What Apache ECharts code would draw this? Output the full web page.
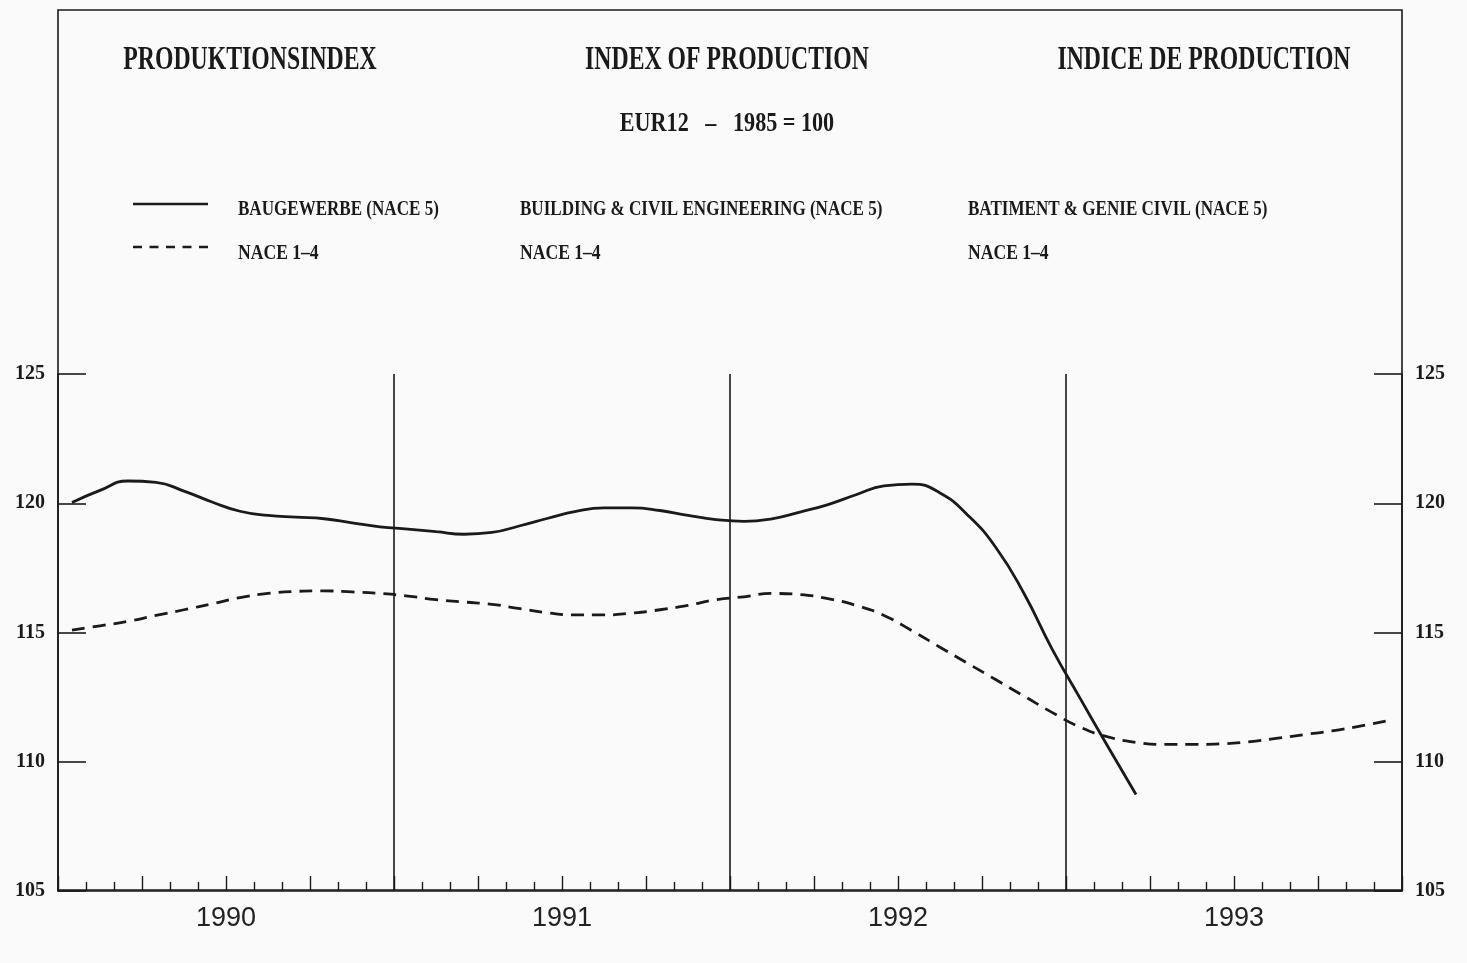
<!DOCTYPE html>
<html>
<head>
<meta charset="utf-8">
<title>Produktionsindex</title>
<script src="https://cdn.jsdelivr.net/npm/echarts@6/dist/echarts.min.js"></script>
<style>
  html, body { margin: 0; padding: 0; background: #fafafa; }
  #chart { width: 1467px; height: 963px; }
</style>
</head>
<body>
<div id="chart"></div>
<script>
// Monthly index values, EUR12, 1985 = 100, starting January 1990
const years = ['1990', '1991', '1992', '1993'];
const yTicks = [105, 110, 115, 120, 125];

// Building & civil engineering (NACE 5), Jan 1990 – Mar 1993
const baugewerbe = [
  120.03, 120.50, 120.86, 120.81, 120.47, 120.05, 119.69, 119.53, 119.46, 119.40, 119.24, 119.09,
  119.00, 118.90, 118.80, 118.87, 119.13, 119.42, 119.69, 119.82, 119.82, 119.72, 119.53, 119.37,
  119.30, 119.40, 119.66, 119.95, 120.33, 120.67, 120.74, 120.40, 119.53, 118.28, 116.51, 114.37,
  112.46, 110.58, 108.73
];

// NACE 1-4, Jan 1990 – Dec 1993
const nace14 = [
  115.09, 115.26, 115.43, 115.66, 115.88, 116.11, 116.35, 116.51, 116.59, 116.61, 116.57, 116.51,
  116.41, 116.27, 116.18, 116.09, 115.92, 115.76, 115.68, 115.68, 115.75, 115.88, 116.05, 116.27,
  116.38, 116.51, 116.47, 116.31, 116.05, 115.66, 115.07, 114.43, 113.80, 113.17, 112.54, 111.91,
  111.34, 110.96, 110.75, 110.67, 110.67, 110.69, 110.77, 110.90, 111.05, 111.19, 111.38, 111.59
];

// Text blocks of the heading and the trilingual legend
const titles = ['PRODUKTIONSINDEX', 'INDEX OF PRODUCTION', 'INDICE DE PRODUCTION'];
const subtitle = 'EUR12   \u2013   1985 = 100';
const legendSolid = ['BAUGEWERBE (NACE 5)', 'BUILDING & CIVIL ENGINEERING (NACE 5)', 'BATIMENT & GENIE CIVIL (NACE 5)'];
const legendDashed = ['NACE 1\u20134', 'NACE 1\u20134', 'NACE 1\u20134'];

// each monthly value sits in the middle of its month
const toPoints = arr => arr.map((v, i) => [i + 0.5, v]);

const INK = '#1a1a1a';
const SERIF = "'Liberation Serif', 'DejaVu Serif', serif";

function label(text, x, y, size, align, squeeze) {
  return {
    type: 'text', x: x, y: y, scaleX: squeeze, silent: true,
    style: {
      text: text, fill: INK,
      font: 'bold ' + size + 'px ' + SERIF,
      align: align, verticalAlign: 'middle',
      textAlign: align, textVerticalAlign: 'middle'
    }
  };
}

const titleX = [250, 727, 1204];
const legendX = [238, 520, 968];

const graphics = [
  // frame around the whole plot
  { type: 'rect', silent: true, z: 0,
    shape: { x: 58, y: 10, width: 1344, height: 880 },
    style: { fill: 'none', stroke: INK, lineWidth: 1.6 } },
  // legend keys
  { type: 'line', silent: true, shape: { x1: 133, y1: 204, x2: 208, y2: 204 },
    style: { stroke: INK, lineWidth: 2.6 } },
  { type: 'line', silent: true, shape: { x1: 133, y1: 247, x2: 208, y2: 247 },
    style: { stroke: INK, lineWidth: 2.6, lineDash: [9, 7.5] } },
  label(subtitle, 727, 124, 27, 'center', 0.82)
];
titles.forEach((t, i) => graphics.push(label(t, titleX[i], 60, 33, 'center', 0.72)));
legendSolid.forEach((t, i) => graphics.push(label(t, legendX[i], 209, 22, 'left', 0.775)));
legendDashed.forEach((t, i) => graphics.push(label(t, legendX[i], 253, 22, 'left', 0.8)));

const yAxisBase = {
  type: 'value', min: yTicks[0], max: yTicks[yTicks.length - 1], interval: 5,
  axisLine: { show: true, lineStyle: { color: INK, width: 1.6 } },
  axisTick: { show: true, inside: true, length: 28, lineStyle: { color: INK, width: 1.6 } },
  axisLabel: { margin: 13, color: INK, fontFamily: SERIF, fontWeight: 'bold', fontSize: 20, padding: [6, 0, 0, 0] },
  splitLine: { show: false }
};

const option = {
  backgroundColor: '#fafafa',
  animation: false,
  graphic: graphics,
  grid: { left: 58, right: 65, top: 374, bottom: 72, containLabel: false },
  xAxis: {
    type: 'value', min: 0, max: 48, interval: 3,
    axisLine: { show: true, lineStyle: { color: INK, width: 1.6 } },
    axisTick: { show: true, inside: true, length: 15, lineStyle: { color: INK, width: 1.4 } },
    minorTick: { show: true, splitNumber: 3, length: 9, lineStyle: { color: INK, width: 1.4 } },
    axisLabel: {
      margin: 14, color: '#222', fontFamily: "'Liberation Sans', Arial, sans-serif", fontSize: 27,
      formatter: v => (v % 12 === 6 ? years[(v - 6) / 12] : '')
    },
    splitLine: { show: false }, minorSplitLine: { show: false }
  },
  yAxis: [
    Object.assign({}, yAxisBase, { position: 'left' }),
    Object.assign({}, yAxisBase, { position: 'right' })
  ],
  series: [
    {
      name: 'BAUGEWERBE (NACE 5)', type: 'line', data: toPoints(baugewerbe),
      smooth: 0.5, showSymbol: false, symbol: 'none',
      lineStyle: { color: INK, width: 2.8 },
      markLine: {
        silent: true, symbol: ['none', 'none'], label: { show: false },
        lineStyle: { color: INK, width: 1.6, type: 'solid' },
        data: [12, 24, 36].map(m => [{ coord: [m, yTicks[0]] }, { coord: [m, yTicks[yTicks.length - 1]] }])
      }
    },
    {
      name: 'NACE 1\u20134', type: 'line', data: toPoints(nace14),
      smooth: 0.5, showSymbol: false, symbol: 'none',
      lineStyle: { color: INK, width: 2.8, type: [13, 8] }
    }
  ]
};

const chart = echarts.init(document.getElementById('chart'), null, { renderer: 'canvas' });
chart.setOption(option);
</script>
</body>
</html>
